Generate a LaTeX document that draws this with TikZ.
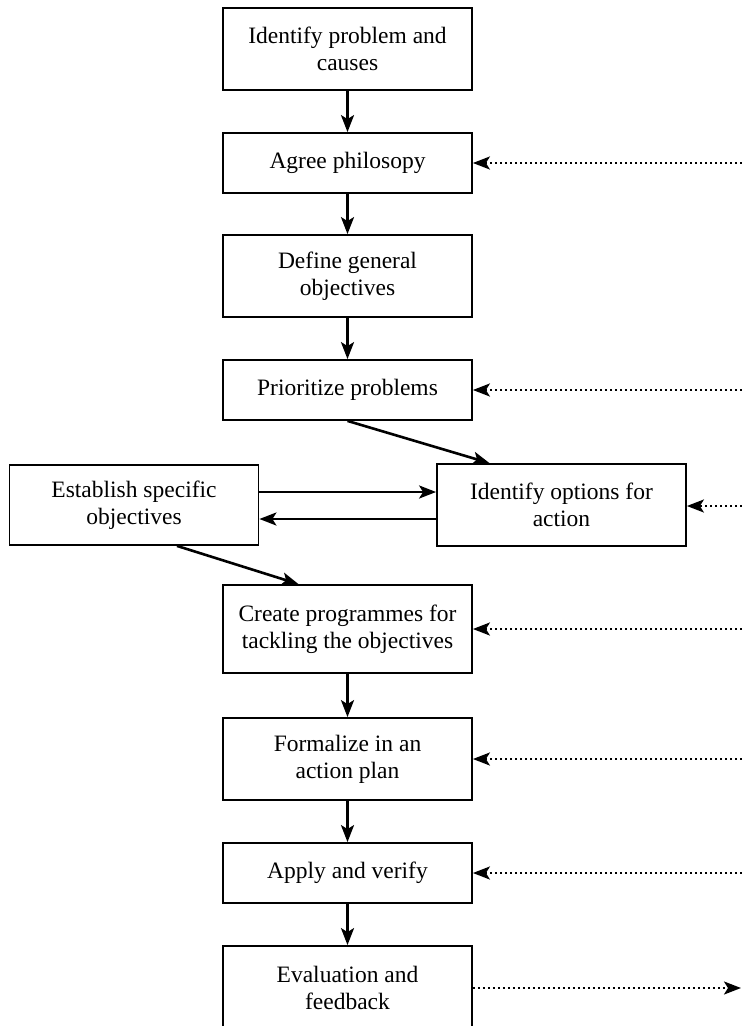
\documentclass[tikz,border=0pt]{standalone}
\usepackage{fontspec}
\setmainfont{Liberation Serif}
\usetikzlibrary{arrows.meta}
\begin{document}
\begin{tikzpicture}[x=1pt,y=-1pt,
  box/.style={draw, line width=1.8pt, minimum width=249pt, inner sep=0pt, align=center,
    font=\fontsize{23.5}{27}\selectfont},
  flow/.style={line width=2.6pt, -{Stealth[length=17pt,width=13pt,inset=4pt]}},
  fb/.style={line width=2.2pt, dash pattern=on 2pt off 3pt, -{Stealth[length=17pt,width=13pt,inset=4pt]}}]
\useasboundingbox (0,0) rectangle (742,1026);
\clip (0,0) rectangle (742,1026);
\node[box, minimum height=82pt] (b1) at (347.5,49) {Identify problem and\\causes};
\node[box, minimum height=60pt] (b2) at (347.5,163) {Agree philosopy};
\node[box, minimum height=82pt] (b3) at (347.5,276) {Define general\\objectives};
\node[box, minimum height=60pt] (b4) at (347.5,390) {Prioritize problems};
\node[box, minimum height=80pt] (b5) at (134,505) {Establish specific\\objectives};
\node[box, minimum height=82pt] (b6) at (561.5,505) {Identify options for\\action};
\node[box, minimum height=88pt] (b7) at (347.5,629) {Create programmes for\\tackling the objectives};
\node[box, minimum height=82pt] (b8) at (347.5,759) {Formalize in an\\action plan};
\node[box, minimum height=60pt] (b9) at (347.5,873) {Apply and verify};
\node[box, minimum height=84pt] (b10) at (347.5,988) {Evaluation and\\feedback};
\draw[flow] (b1) -- (b2);
\draw[flow] (b2) -- (b3);
\draw[flow] (b3) -- (b4);
\draw[flow] (b4.south) -- ([xshift=-72pt]b6.north);
\draw[flow] ([yshift=13pt]b5.east) -- ([yshift=13pt]b6.west);
\draw[flow] ([yshift=-14pt]b6.west) -- ([yshift=-14pt]b5.east);
\draw[flow] ([xshift=43pt]b5.south) -- ([xshift=-49pt]b7.north);
\draw[flow] (b7) -- (b8);
\draw[flow] (b8) -- (b9);
\draw[flow] (b9) -- (b10);
\coordinate (r2) at (742,163);
\coordinate (r4) at (742,390);
\coordinate (r6) at (742,506);
\coordinate (r7) at (742,629);
\coordinate (r8) at (742,759);
\coordinate (r9) at (742,873);
\coordinate (r10) at (741,988);
\draw[fb] (r2) -- (b2.east);
\draw[fb] (r4) -- (b4.east);
\draw[fb] (r6) -- (b6.east |- r6);
\draw[fb] (r7) -- (b7.east);
\draw[fb] (r8) -- (b8.east);
\draw[fb] (r9) -- (b9.east);
\draw[fb] (b10.east) -- (r10);
\end{tikzpicture}
\end{document}
